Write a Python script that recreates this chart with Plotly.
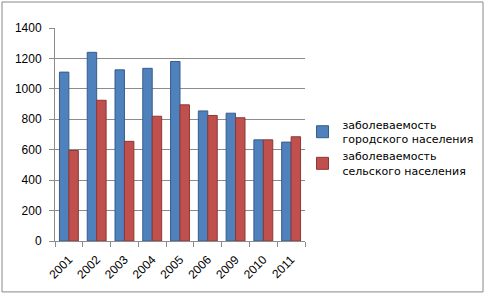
import plotly.graph_objects as go

years = ["2001", "2002", "2003", "2004", "2005", "2006", "2009", "2010", "2011"]
urban = [1110, 1240, 1125, 1135, 1180, 855, 840, 665, 650]
rural = [595, 925, 655, 820, 895, 825, 810, 665, 685]
name_urban = "заболеваемость<br>городского населения"
name_rural = "заболеваемость<br>сельского населения"

fig = go.Figure()
fig.add_trace(go.Bar(x=years, y=urban, name=name_urban,
                     marker=dict(color="#4F81BD", line=dict(color="#385D8A", width=1))))
fig.add_trace(go.Bar(x=years, y=rural, name=name_rural,
                     marker=dict(color="#C0504D", line=dict(color="#8C3836", width=1))))

fig.update_layout(
    width=485, height=295,
    margin=dict(l=55, r=180, t=28, b=54, autoexpand=False),
    paper_bgcolor="white", plot_bgcolor="white",
    barmode="group", bargap=0.32, bargroupgap=0,
    font=dict(family="Liberation Sans, Arial", size=12, color="#000"),
    showlegend=True,
    legend=dict(x=0.99, y=0.437, xanchor="left", yanchor="middle",
                font=dict(family="DejaVu Sans", size=11),
                tracegroupgap=15, itemwidth=30, bgcolor="rgba(0,0,0,0)"),
    shapes=[dict(type="rect", xref="paper", yref="paper",
                 x0=-0.212, x1=1.712, y0=-0.239, y1=1.122,
                 line=dict(color="#888888", width=1), layer="above")],
)
fig.update_yaxes(range=[0, 1400], dtick=200, showgrid=True, gridcolor="#8c8c8c", gridwidth=1,
                 showline=True, linecolor="#8c8c8c", ticks="outside", ticklen=5, tickcolor="#8c8c8c",
                 zeroline=False, tickfont=dict(size=12), ticklabelstandoff=5)
fig.update_xaxes(showline=True, linecolor="#8c8c8c", ticks="outside", ticklen=5, tickcolor="#8c8c8c",
                 tickson="boundaries", tickangle=-45, tickfont=dict(size=12), ticklabelstandoff=6)

fig.write_html("out.html", config={"displayModeBar": False},
               post_script="document.body.style.margin='0';")
